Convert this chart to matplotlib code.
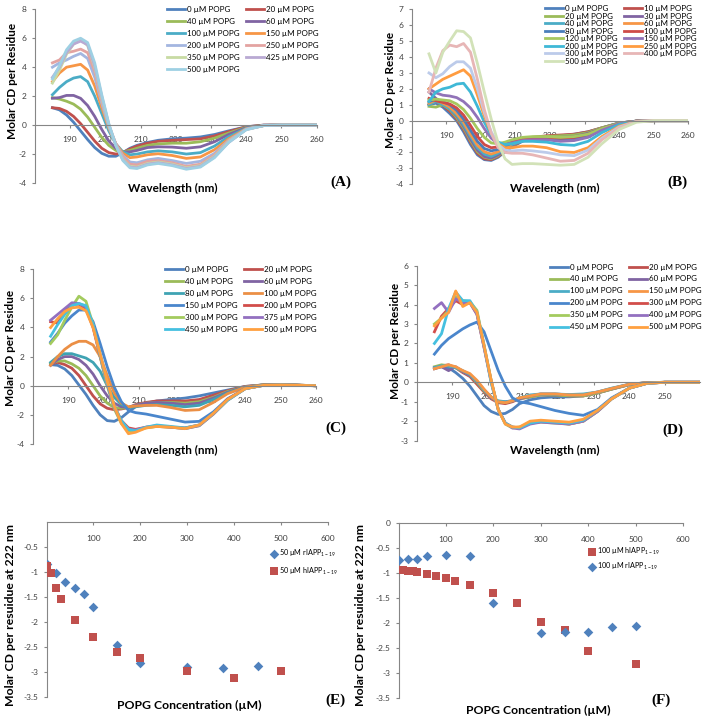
import matplotlib
matplotlib.use('Agg')
import matplotlib.pyplot as plt
from matplotlib.ticker import FuncFormatter

plt.rcParams['font.family'] = ['Lato', 'DejaVu Sans']
plt.rcParams['axes.unicode_minus'] = False

W, H = 706, 721


def fx(px):
    return px / W


def fy(py):
    return 1 - py / H


# wavelength grid (nm) the spectra were read at
wl = [185, 187, 189, 191, 193, 195, 197, 199, 201, 203, 205, 207, 209, 212, 215, 219, 223, 227, 231, 235, 240, 245, 250, 260]

# ---- panel A ----
a_conc = [0, 20, 40, 60, 100, 150, 200, 250, 350, 425, 500]
a_0 = [1.2, 1.05, 0.7, 0.2, -0.4, -1.0, -1.55, -1.95, -2.15, -2.15, -1.9, -1.6, -1.4, -1.2, -1.05, -0.95, -0.9, -0.82, -0.65, -0.4, -0.12, 0, 0, 0]
a_20 = [1.2, 1.15, 0.95, 0.6, 0.1, -0.5, -1.1, -1.6, -1.9, -2.0, -1.9, -1.65, -1.45, -1.25, -1.12, -1.05, -1.0, -0.95, -0.75, -0.45, -0.12, 0, 0, 0]
a_40 = [1.9, 1.8, 1.65, 1.45, 1.1, 0.55, -0.15, -0.85, -1.4, -1.75, -1.85, -1.75, -1.6, -1.4, -1.3, -1.25, -1.25, -1.15, -0.9, -0.55, -0.15, -0.02, 0, 0]
a_60 = [1.85, 1.9, 2.05, 2.05, 1.85, 1.35, 0.6, -0.3, -1.1, -1.6, -1.85, -1.85, -1.75, -1.55, -1.5, -1.52, -1.6, -1.5, -1.15, -0.65, -0.18, -0.02, 0, 0]
a_100 = [2.1, 2.6, 3.0, 3.25, 3.35, 3.0, 2.0, 0.8, -0.4, -1.3, -1.85, -2.05, -2.0, -1.85, -1.78, -1.85, -2.0, -1.9, -1.45, -0.8, -0.22, -0.03, 0, 0]
a_150 = [3.0, 3.6, 4.0, 4.1, 4.2, 3.8, 2.7, 1.2, -0.2, -1.3, -1.95, -2.25, -2.2, -2.05, -1.98, -2.1, -2.3, -2.2, -1.7, -0.95, -0.25, -0.03, 0, 0]
a_200 = [4.0, 4.3, 4.5, 4.75, 4.95, 4.6, 3.3, 1.5, -0.1, -1.3, -2.1, -2.55, -2.6, -2.4, -2.3, -2.45, -2.65, -2.5, -1.95, -1.05, -0.28, -0.03, 0, 0]
a_250 = [4.3, 4.5, 5.0, 5.1, 5.25, 5.0, 3.7, 1.7, 0.0, -1.3, -2.2, -2.7, -2.75, -2.5, -2.45, -2.6, -2.85, -2.7, -2.05, -1.1, -0.3, -0.03, 0, 0]
a_350 = [2.9, 3.8, 4.9, 5.6, 5.9, 5.5, 4.0, 1.9, 0.0, -1.4, -2.35, -2.85, -2.9, -2.65, -2.55, -2.7, -2.95, -2.8, -2.15, -1.15, -0.3, -0.03, 0, 0]
a_425 = [3.3, 4.0, 5.0, 5.6, 5.8, 5.55, 4.1, 2.0, 0.05, -1.4, -2.4, -2.9, -2.95, -2.7, -2.6, -2.75, -3.0, -2.85, -2.2, -1.2, -0.3, -0.03, 0, 0]
a_500 = [3.2, 4.1, 5.2, 5.8, 6.0, 5.7, 4.3, 2.1, 0.1, -1.4, -2.45, -2.95, -3.0, -2.75, -2.65, -2.8, -3.05, -2.9, -2.25, -1.2, -0.32, -0.03, 0, 0]
a_curves = [a_0, a_20, a_40, a_60, a_100, a_150, a_200, a_250, a_350, a_425, a_500]
a_colors = ['#4F81BD', '#C0504D', '#9BBB59', '#8064A2', '#4BACC6', '#F79646',
            '#A3B6E0', '#E3A3A1', '#C8DBA3', '#B9A9D3', '#9ED0E3']

# ---- panel B ----
b_conc = [0, 10, 20, 30, 40, 60, 80, 100, 120, 150, 200, 250, 300, 400, 500]
b_0 = [1.0, 1.1, 0.85, 0.45, 0.0, -0.7, -1.5, -2.15, -2.45, -2.5, -2.3, -1.95, -1.65, -1.3, -1.1, -1.0, -0.95, -0.85, -0.7, -0.45, -0.15, -0.03, 0, 0]
b_10 = [1.0, 1.2, 0.95, 0.6, 0.1, -0.55, -1.35, -2.05, -2.4, -2.45, -2.25, -1.9, -1.6, -1.25, -1.05, -0.95, -0.9, -0.85, -0.7, -0.45, -0.15, -0.03, 0, 0]
b_20 = [0.9, 0.85, 1.0, 0.7, 0.2, -0.45, -1.25, -1.95, -2.3, -2.4, -2.2, -1.85, -1.55, -1.25, -1.05, -1.0, -0.95, -0.9, -0.75, -0.45, -0.15, -0.03, 0, 0]
b_30 = [1.8, 1.4, 1.1, 0.75, 0.3, -0.35, -1.15, -1.85, -2.25, -2.35, -2.15, -1.85, -1.55, -1.25, -1.1, -1.05, -1.05, -1.0, -0.8, -0.5, -0.15, -0.03, 0, 0]
b_40 = [1.0, 1.2, 1.0, 0.75, 0.35, -0.25, -1.0, -1.7, -2.1, -2.25, -2.05, -1.75, -1.5, -1.25, -1.15, -1.1, -1.1, -1.05, -0.85, -0.5, -0.15, -0.03, 0, 0]
b_60 = [1.1, 1.3, 1.1, 0.85, 0.45, -0.1, -0.85, -1.55, -1.95, -2.1, -1.95, -1.7, -1.45, -1.25, -1.2, -1.15, -1.2, -1.15, -0.9, -0.55, -0.18, -0.03, 0, 0]
b_80 = [1.2, 1.35, 1.2, 1.0, 0.65, 0.1, -0.6, -1.3, -1.75, -1.9, -1.8, -1.6, -1.4, -1.25, -1.2, -1.15, -1.2, -1.15, -0.9, -0.55, -0.18, -0.03, 0, 0]
b_100 = [1.4, 1.25, 1.15, 1.05, 0.8, 0.35, -0.3, -1.0, -1.5, -1.7, -1.65, -1.45, -1.3, -1.15, -1.1, -1.05, -1.1, -1.05, -0.85, -0.5, -0.18, -0.03, 0, 0]
b_120 = [1.3, 1.35, 1.3, 1.25, 1.05, 0.7, 0.15, -0.5, -1.05, -1.4, -1.45, -1.35, -1.2, -1.05, -1.0, -1.0, -1.05, -1.0, -0.85, -0.5, -0.18, -0.03, 0, 0]
b_150 = [2.0, 1.75, 1.6, 1.55, 1.45, 1.2, 0.8, 0.2, -0.5, -1.1, -1.45, -1.5, -1.4, -1.25, -1.2, -1.2, -1.3, -1.25, -1.05, -0.6, -0.2, -0.03, 0, 0]
b_200 = [1.2, 1.8, 2.0, 2.1, 2.3, 2.35, 1.8, 0.9, -0.1, -0.9, -1.35, -1.5, -1.45, -1.3, -1.3, -1.35, -1.5, -1.55, -1.3, -0.75, -0.25, -0.05, 0, 0]
b_250 = [2.0, 2.3, 2.6, 2.8, 3.0, 3.2, 2.8, 1.6, 0.3, -0.8, -1.45, -1.7, -1.7, -1.6, -1.6, -1.7, -1.95, -2.0, -1.7, -1.0, -0.35, -0.05, 0, 0]
b_300 = [3.0, 2.7, 2.95, 3.4, 3.7, 3.7, 3.3, 2.0, 0.5, -0.7, -1.5, -1.85, -1.9, -1.85, -1.9, -2.0, -2.15, -2.2, -1.85, -1.1, -0.4, -0.05, 0, 0]
b_400 = [1.8, 3.3, 4.4, 4.75, 4.65, 4.85, 4.3, 2.6, 0.7, -0.8, -1.7, -2.0, -2.05, -2.05, -2.15, -2.35, -2.55, -2.5, -2.05, -1.2, -0.45, -0.05, 0, 0]
b_500 = [4.2, 3.0, 4.3, 5.0, 5.65, 5.6, 5.2, 3.6, 1.8, 0.1, -1.4, -2.4, -2.75, -2.7, -2.7, -2.75, -2.8, -2.75, -2.3, -1.45, -0.55, -0.1, 0, 0]
b_curves = [b_0, b_10, b_20, b_30, b_40, b_60, b_80, b_100, b_120, b_150, b_200, b_250, b_300, b_400, b_500]
b_colors = ['#4F81BD', '#C0504D', '#9BBB59', '#8064A2', '#4BACC6', '#F79646',
            '#4A7EBB', '#CE4B48', '#A6C85F', '#9173B8', '#3FB8D6', '#FF9C40',
            '#BCCBEA', '#E7B6B6', '#D2E2B8']

# ---- panel C ----
c_conc = [0, 20, 40, 60, 80, 100, 150, 200, 300, 375, 450, 500]
c_0 = [1.45, 1.4, 1.15, 0.7, 0.05, -0.6, -1.35, -2.0, -2.4, -2.45, -2.2, -1.8, -1.45, -1.2, -1.05, -0.95, -0.85, -0.7, -0.5, -0.3, -0.05, 0.05, 0.05, 0]
c_20 = [1.5, 1.6, 1.45, 1.2, 0.7, 0.0, -0.7, -1.25, -1.55, -1.65, -1.6, -1.5, -1.3, -1.15, -1.05, -1.05, -1.05, -0.95, -0.65, -0.35, -0.05, 0.05, 0.07, 0]
c_40 = [1.5, 1.7, 1.7, 1.5, 1.2, 0.7, 0.0, -0.7, -1.2, -1.5, -1.55, -1.5, -1.35, -1.2, -1.15, -1.15, -1.2, -1.1, -0.8, -0.4, -0.08, 0.05, 0.07, 0]
c_60 = [1.4, 1.8, 2.0, 2.0, 1.8, 1.4, 0.8, 0.0, -0.7, -1.2, -1.45, -1.5, -1.35, -1.2, -1.15, -1.2, -1.3, -1.2, -0.85, -0.45, -0.08, 0.05, 0.07, 0]
c_80 = [1.6, 2.0, 2.2, 2.2, 2.05, 1.9, 1.6, 1.0, 0.0, -0.8, -1.3, -1.5, -1.45, -1.35, -1.3, -1.35, -1.45, -1.35, -0.95, -0.5, -0.1, 0.05, 0.07, 0]
c_100 = [1.4, 2.0, 2.5, 2.85, 3.05, 3.05, 2.8, 2.0, 0.7, -0.5, -1.2, -1.45, -1.4, -1.35, -1.35, -1.5, -1.7, -1.65, -1.15, -0.55, -0.1, 0.05, 0.07, 0]
c_150 = [3.0, 3.6, 4.3, 4.8, 5.2, 5.2, 4.4, 2.9, 1.3, -0.1, -1.1, -1.7, -1.85, -1.95, -2.1, -2.3, -2.5, -2.45, -1.8, -0.9, -0.2, 0.02, 0.05, 0]
c_200 = [4.4, 4.3, 5.1, 5.6, 5.6, 5.3, 4.0, 2.0, 0.1, -1.4, -2.4, -2.9, -3.0, -2.85, -2.8, -2.85, -2.9, -2.7, -1.9, -0.95, -0.2, 0.02, 0.05, 0]
c_300 = [2.9, 3.5, 4.5, 5.4, 6.15, 5.8, 4.2, 2.0, 0.0, -1.6, -2.6, -3.1, -3.1, -2.9, -2.8, -2.85, -2.95, -2.75, -1.95, -1.0, -0.2, 0.02, 0.05, 0]
c_375 = [4.5, 4.9, 5.3, 5.7, 5.65, 5.4, 4.1, 2.1, 0.1, -1.5, -2.5, -3.0, -3.05, -2.85, -2.75, -2.85, -2.95, -2.75, -1.95, -1.0, -0.2, 0.02, 0.05, 0]
c_450 = [3.4, 4.2, 4.9, 5.5, 5.65, 5.5, 4.2, 2.2, 0.2, -1.4, -2.4, -3.0, -3.1, -2.85, -2.7, -2.8, -2.9, -2.7, -1.9, -1.0, -0.2, 0.02, 0.05, 0]
c_500 = [4.0, 4.6, 5.1, 5.35, 5.4, 5.15, 4.0, 2.2, 0.3, -1.4, -2.6, -3.3, -3.2, -2.9, -2.8, -2.85, -2.95, -2.7, -1.9, -0.95, -0.2, 0.02, 0.05, 0]
c_curves = [c_0, c_20, c_40, c_60, c_80, c_100, c_150, c_200, c_300, c_375, c_450, c_500]
c_colors = ['#4F81BD', '#C0504D', '#9BBB59', '#8064A2', '#3FA3B3', '#EB8F45',
            '#4A86CC', '#D24D4A', '#A3CB5E', '#9370C0', '#45C0E0', '#FFA040']

# ---- panel D ----
d_conc = [0, 20, 40, 60, 100, 150, 200, 300, 350, 400, 450, 500]
d_0 = [0.7, 0.8, 0.75, 0.5, 0.2, -0.2, -0.7, -1.2, -1.5, -1.65, -1.6, -1.4, -1.1, -0.9, -0.8, -0.75, -0.75, -0.7, -0.55, -0.35, -0.12, -0.02, 0, 0]
d_20 = [0.7, 0.85, 0.9, 0.75, 0.5, 0.3, -0.1, -0.5, -0.85, -1.05, -1.1, -1.0, -0.85, -0.75, -0.65, -0.65, -0.7, -0.7, -0.55, -0.35, -0.12, -0.02, 0, 0]
d_40 = [0.8, 0.9, 0.85, 0.75, 0.55, 0.35, 0.0, -0.45, -0.8, -1.0, -1.05, -0.95, -0.85, -0.75, -0.65, -0.65, -0.7, -0.7, -0.55, -0.35, -0.12, -0.02, 0, 0]
d_60 = [0.75, 0.8, 0.6, 0.8, 0.55, 0.35, 0.05, -0.4, -0.8, -1.0, -1.0, -0.95, -0.85, -0.7, -0.6, -0.6, -0.65, -0.65, -0.5, -0.32, -0.1, -0.02, 0, 0]
d_100 = [0.75, 0.85, 0.85, 0.75, 0.6, 0.4, 0.05, -0.4, -0.75, -0.95, -1.0, -0.95, -0.8, -0.65, -0.6, -0.6, -0.63, -0.6, -0.5, -0.3, -0.1, -0.02, 0, 0]
d_150 = [0.7, 0.8, 0.9, 0.8, 0.6, 0.45, 0.1, -0.35, -0.75, -1.0, -1.05, -0.95, -0.8, -0.7, -0.6, -0.6, -0.65, -0.65, -0.5, -0.32, -0.1, -0.02, 0, 0]
d_200 = [1.45, 1.9, 2.25, 2.5, 2.75, 2.95, 3.1, 2.6, 1.6, 0.6, -0.2, -0.8, -1.0, -1.1, -1.25, -1.45, -1.6, -1.7, -1.4, -0.8, -0.3, -0.05, 0, 0]
d_300 = [2.6, 3.4, 3.8, 4.2, 4.0, 4.1, 3.5, 1.8, 0.1, -1.4, -2.1, -2.3, -2.35, -2.1, -2.0, -2.05, -2.15, -2.0, -1.5, -0.85, -0.3, -0.05, 0, 0]
d_350 = [3.0, 3.3, 3.7, 4.4, 4.2, 4.15, 3.7, 1.9, 0.1, -1.4, -2.15, -2.35, -2.3, -2.1, -2.05, -2.1, -2.15, -2.0, -1.5, -0.85, -0.3, -0.05, 0, 0]
d_400 = [3.8, 4.1, 3.6, 4.3, 4.1, 4.1, 3.5, 1.8, 0.0, -1.4, -2.1, -2.35, -2.4, -2.15, -2.05, -2.1, -2.15, -2.0, -1.5, -0.85, -0.3, -0.05, 0, 0]
d_450 = [2.0, 2.5, 3.8, 4.65, 4.2, 4.2, 3.6, 1.9, 0.0, -1.4, -2.1, -2.3, -2.35, -2.1, -2.0, -2.05, -2.1, -1.95, -1.45, -0.85, -0.3, -0.05, 0, 0]
d_500 = [2.9, 3.3, 3.6, 4.7, 3.9, 4.1, 3.6, 1.9, 0.1, -1.4, -2.15, -2.3, -2.3, -2.0, -1.95, -2.0, -2.05, -1.9, -1.45, -0.85, -0.3, -0.05, 0, 0]
d_curves = [d_0, d_20, d_40, d_60, d_100, d_150, d_200, d_300, d_350, d_400, d_450, d_500]
d_colors = ['#4F81BD', '#C0504D', '#9BBB59', '#8064A2', '#4BACC6', '#F79646',
            '#4A86CC', '#D24D4A', '#A3CB5E', '#9370C0', '#45C0E0', '#FFA040']

# ---- panel E (50 uM peptide, 222 nm) ----
e_r_x = [0, 20, 40, 60, 80, 100, 150, 200, 300, 375, 450]
e_r_y = [-0.85, -1.03, -1.2, -1.33, -1.44, -1.7, -2.46, -2.83, -2.9, -2.92, -2.89]
e_h_x = [0, 10, 20, 30, 60, 100, 150, 200, 300, 400, 500]
e_h_y = [-0.89, -1.03, -1.32, -1.54, -1.96, -2.31, -2.6, -2.72, -2.99, -3.12, -2.99]

# ---- panel F (100 uM peptide, 222 nm) ----
f_h_x = [0, 10, 20, 30, 40, 60, 80, 100, 120, 150, 200, 250, 300, 350, 400, 500]
f_h_y = [-0.93, -0.94, -0.95, -0.96, -0.97, -1.02, -1.06, -1.1, -1.16, -1.23, -1.4, -1.6, -1.98, -2.13, -2.56, -2.81]
f_r_x = [0, 20, 40, 60, 100, 150, 200, 300, 350, 400, 450, 500]
f_r_y = [-0.73, -0.71, -0.71, -0.65, -0.63, -0.65, -1.59, -2.19, -2.17, -2.17, -2.08, -2.05]

AXC = '#868686'
TXC = '#404040'
fmt = FuncFormatter(lambda v, p: '%g' % v)

fig = plt.figure(figsize=(W / 100, H / 100), dpi=100)


def base_axes(rect):
    ax = fig.add_axes(rect)
    ax.patch.set_visible(False)
    ax.spines['top'].set_visible(False)
    ax.spines['right'].set_visible(False)
    ax.spines['bottom'].set_position(('data', 0))
    for s in ('left', 'bottom'):
        ax.spines[s].set_color(AXC)
        ax.spines[s].set_linewidth(0.8)
    ax.tick_params(colors=AXC, labelcolor=TXC, labelsize=6, width=0.8)
    ax.tick_params(axis='y', length=2.5, pad=3.5)
    ax.yaxis.set_major_formatter(fmt)
    return ax


def spectra(rect, curves, colors, conc, ylim, yticks, xticks, leg_xy, spacing):
    ax = base_axes(rect)
    lines = []
    for ys, c, n in zip(curves, colors, conc):
        ln, = ax.plot(wl, ys, color=c, lw=2.0, solid_joinstyle='round',
                      label='%d µM POPG' % n)
        lines.append(ln)
    ax.set_xlim(180, 260)
    ax.set_ylim(*ylim)
    ax.set_xticks(xticks)
    ax.set_yticks(yticks)
    ax.tick_params(axis='x', length=2, pad=6)
    order = lines[0::2] + lines[1::2]
    ax.legend(order, [l.get_label() for l in order], ncol=2, frameon=False,
              loc='upper left', bbox_to_anchor=(fx(leg_xy[0]), fy(leg_xy[1])),
              bbox_transform=fig.transFigure, borderpad=0, borderaxespad=0,
              fontsize=5.8, handlelength=2.2, handletextpad=0.25,
              columnspacing=0.8, labelspacing=spacing)
    return ax


def label_set(ylab, yl_xy, xlab, xl_xy, tag, tag_xy, size):
    fig.text(fx(yl_xy[0]), fy(yl_xy[1]), ylab, rotation=90, ha='center', va='center',
             fontsize=size, fontweight='bold')
    fig.text(fx(xl_xy[0]), fy(xl_xy[1]), xlab, ha='center', va='center',
             fontsize=size, fontweight='bold')
    fig.text(fx(tag_xy[0]), fy(tag_xy[1]), tag, ha='center', va='center',
             fontsize=11, fontweight='bold', family='Liberation Serif')


wl_ticks = [190, 200, 210, 220, 230, 240, 250, 260]

spectra([fx(34.8), fy(183), 281.9 / W, 173.7 / H], a_curves, a_colors, a_conc,
        (-4, 8), range(-4, 9, 2), wl_ticks, (167, 6), 0.62)
label_set('Molar CD per Residue', (12, 81), 'Wavelength (nm)', (173, 188), '(A)', (341, 182), 8.5)

spectra([fx(411.7), fy(184.3), 276.6 / W, 175 / H], b_curves, b_colors, b_conc,
        (-4, 7), range(-4, 8), wl_ticks, (545, 5.3), 0.06)
label_set('Molar CD per Residue', (390, 90), 'Wavelength (nm)', (555, 188), '(B)', (677, 182), 8.5)

spectra([fx(32.9), fy(443.9), 283.1 / W, 174.6 / H], c_curves, c_colors, c_conc,
        (-4, 8), range(-4, 9, 2), wl_ticks, (165, 266), 0.62)
label_set('Molar CD per Residue', (11, 348), 'Wavelength (nm)', (173, 450), '(C)', (336, 428), 8.5)

spectra([fx(416.7), fy(440.6), 283.6 / W, 174.9 / H], d_curves, d_colors, d_conc,
        (-3, 6), range(-3, 7), wl_ticks[:-1], (550, 263.5), 0.62)
label_set('Molar CD per Residue', (395, 341), 'Wavelength (nm)', (555, 450), '(D)', (673, 430), 8.5)


def conc_panel(rect, series, yticks, leg_xy, spacing):
    ax = base_axes(rect)
    for xs, ys, mk, c, lab in series:
        ax.scatter(xs, ys, marker=mk, s=30 if mk == 's' else 24, color=c,
                   linewidths=0, label=lab, zorder=3)
    ax.set_xlim(0, 600)
    ax.set_ylim(-3.5, 0)
    ax.set_xticks([100, 200, 300, 400, 500, 600])
    ax.set_yticks(yticks)
    ax.tick_params(axis='x', length=2, pad=7.5)
    ax.legend(frameon=False, loc='upper left',
              bbox_to_anchor=(fx(leg_xy[0]), fy(leg_xy[1])),
              bbox_transform=fig.transFigure, borderpad=0, borderaxespad=0,
              fontsize=5.2, handlelength=1.0, handletextpad=0.3,
              labelspacing=spacing, scatterpoints=1)
    return ax


r_lab_50 = '50 µM rIAPP$_{\\mathregular{1-19}}$'
h_lab_50 = '50 µM hIAPP$_{\\mathregular{1-19}}$'
conc_panel([fx(46.5), fy(696.7), 281.8 / W, 175 / H],
           [(e_r_x, e_r_y, 'D', '#4F81BD', r_lab_50),
            (e_h_x, e_h_y, 's', '#C0504D', h_lab_50)],
           [-3.5, -3, -2.5, -2, -1.5, -1, -0.5], (270, 548), 0.85)
label_set('Molar CD per resuidue at 222 nm', (11, 615), 'POPG Concentration (µM)', (189, 705),
          '(E)', (335, 700), 8.8)

h_lab_100 = '100 µM hIAPP$_{\\mathregular{1-19}}$'
r_lab_100 = '100 µM rIAPP$_{\\mathregular{1-19}}$'
conc_panel([fx(398.5), fy(698.3), 284.8 / W, 175 / H],
           [(f_h_x, f_h_y, 's', '#C0504D', h_lab_100),
            (f_r_x, f_r_y, 'D', '#4F81BD', r_lab_100)],
           [-3.5, -3, -2.5, -2, -1.5, -1, -0.5, 0], (588, 546), 0.55)
label_set('Molar CD per resuidue at 222 nm', (361, 615), 'POPG Concentration (µM)', (538, 710),
          '(F)', (661, 700), 8.8)

fig.savefig('out.png', dpi=100)
